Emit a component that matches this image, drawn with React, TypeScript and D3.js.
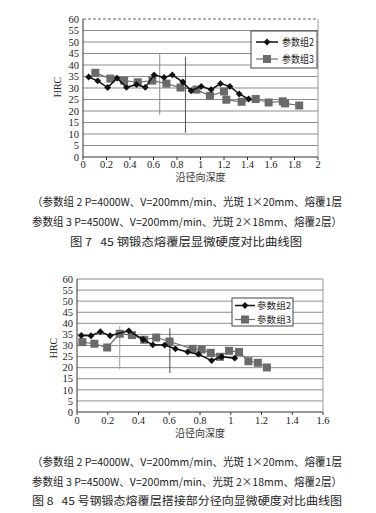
import React from "react";
import * as d3 from "d3";

// ---------- Data ----------
const seriesNames = ["参数组2", "参数组3"];

// Figure 7
const fig7Set2X = [0.048, 0.125, 0.21, 0.29, 0.37, 0.455, 0.53, 0.605, 0.69, 0.76, 0.85, 0.92, 1.006, 1.09, 1.17, 1.25, 1.33, 1.41];
const fig7Set2Y = [34.8, 33.1, 30.2, 34.3, 30.3, 31.5, 30.3, 35.7, 34.6, 35.7, 32.6, 28.8, 30.7, 29.3, 31.9, 30.7, 27.4, 25.2];
const fig7Set3X = [0.105, 0.233, 0.35, 0.466, 0.59, 0.71, 0.83, 0.966, 1.08, 1.2, 1.22, 1.35, 1.47, 1.58, 1.7, 1.72, 1.84];
const fig7Set3Y = [36.6, 34.1, 33.2, 32.5, 33.2, 31.9, 30.2, 29.3, 26.6, 28.5, 24.9, 24.0, 25.2, 23.7, 24.2, 23.3, 22.4];
const fig7XTicks = [0, 0.2, 0.4, 0.6, 0.8, 1, 1.2, 1.4, 1.6, 1.8, 2];
const fig7Markers = [
  { x: 0.653, y0: 18.3, y1: 44.6, color: "#8a8a8a" },
  { x: 0.872, y0: 10.5, y1: 43.6, color: "#555" },
];
const fig7Caption = [
  "（参数组 2 P=4000W、V=200mm/min、光斑 1×20mm、熔覆1层",
  "参数组 3 P=4500W、V=200mm/min、光斑 2×18mm、熔覆2层）",
  "图 7   45 钢锻态熔覆层显微硬度对比曲线图",
];

// Figure 8
const fig8Set2X = [0.028, 0.091, 0.152, 0.215, 0.337, 0.43, 0.493, 0.57, 0.64, 0.72, 0.79, 0.876, 0.94, 1.026];
const fig8Set2Y = [34.5, 34.4, 36.2, 34.4, 36.6, 32.7, 30.3, 30.2, 28.5, 27.1, 26.1, 23.2, 24.9, 24.3];
const fig8Set3X = [0.035, 0.113, 0.196, 0.278, 0.357, 0.437, 0.515, 0.602, 0.752, 0.811, 0.87, 0.93, 0.989, 1.054, 1.115, 1.176, 1.235];
const fig8Set3Y = [31.5, 30.8, 29.1, 35.3, 34.7, 32.6, 33.6, 31.8, 28.5, 28.2, 26.7, 24.9, 27.6, 27.1, 22.9, 22.2, 20.1];
const fig8XTicks = [0, 0.2, 0.4, 0.6, 0.8, 1, 1.2, 1.4, 1.6];
const fig8Markers = [
  { x: 0.278, y0: 19.3, y1: 38.7, color: "#999" },
  { x: 0.604, y0: 17.6, y1: 37.7, color: "#444" },
];
const fig8Caption = [
  "（参数组 2 P=4000W、V=200mm/min、光斑 1×20mm、熔覆1层",
  "参数组 3 P=4500W、V=200mm/min、光斑 2×18mm、熔覆2层）",
  "图 8   45 号钢锻态熔覆层搭接部分径向显微硬度对比曲线图",
];

const yTicks = [0, 5, 10, 15, 20, 25, 30, 35, 40, 45, 50, 55, 60];
const xTitle = "沿径向深度";
const yTitle = "HRC";

const SERIF = "'Liberation Serif', 'DejaVu Serif', serif";
const CJK = "'Noto Sans CJK SC', sans-serif";

type Layout = {
  left: number; right: number; top: number; bottom: number;
  xMax: number;
  legend: { x: number; y: number; w: number; h: number; row1: number; row2: number; lineX0: number; lineX1: number; textX: number; textW: number; fs: number };
  yTitleX: number; yTitleY: number;
  xTitleY: number;
  tickY: number;
  captionY: number[];
  captionBox: [number, number][];
  dashedTop: boolean;
};

function Chart({ s2x, s2y, s3x, s3y, xTicks, markers, caption, L }: any) {
  const lay: Layout = L;
  const x = d3.scaleLinear().domain([0, lay.xMax]).range([lay.left, lay.right]);
  const y = d3.scaleLinear().domain([0, 60]).range([lay.bottom, lay.top]);
  const line = d3.line<[number, number]>().x((d) => x(d[0])).y((d) => y(d[1]));
  const p2: [number, number][] = s2x.map((v: number, i: number) => [v, s2y[i]]);
  const p3: [number, number][] = s3x.map((v: number, i: number) => [v, s3y[i]]);
  const diamond = d3.symbol().type(d3.symbolDiamond2).size(30)() as string;
  const lg = lay.legend;
  const fmt = (t: number) => (t === 0 ? "0" : String(t));
  return (
    <g>
      {/* grid */}
      {yTicks.map((t) =>
        t === 60 && lay.dashedTop ? (
          <line key={t} x1={lay.left} x2={lay.right} y1={y(t)} y2={y(t)} stroke="#666" strokeDasharray="3,2" />
        ) : (
          <line key={t} x1={lay.left} x2={lay.right} y1={y(t)} y2={y(t)} stroke={t === 0 ? "#333" : "#8c8c8c"} strokeWidth={1} />
        )
      )}
      <line x1={lay.left} x2={lay.left} y1={lay.top} y2={lay.bottom} stroke="#333" />
      <line x1={lay.right} x2={lay.right} y1={lay.top} y2={lay.bottom} stroke="#999" />
      {xTicks.map((t: number) => (
        <line key={t} x1={x(t)} x2={x(t)} y1={lay.bottom} y2={lay.bottom + 3} stroke="#333" />
      ))}
      {/* y tick labels */}
      {yTicks.map((t) => (
        <text key={t} x={lay.left - 4} y={y(t)} dy="0.35em" textAnchor="end" fontFamily={SERIF} fontSize={10.5} fill="#222">
          {t}
        </text>
      ))}
      {xTicks.map((t: number) => (
        <text key={t} x={x(t)} y={lay.tickY} dy="0.35em" textAnchor="middle" fontFamily={SERIF} fontSize={10.5} fill="#222">
          {fmt(t)}
        </text>
      ))}
      <text transform={`translate(${lay.yTitleX},${lay.yTitleY}) rotate(-90)`} textAnchor="middle" dy="0.35em" fontFamily={SERIF} fontSize={10} fill="#222">
        {yTitle}
      </text>
      <text x={(lay.left + lay.right) / 2} y={lay.xTitleY} dy="0.35em" textAnchor="middle" fontFamily={CJK} fontSize={10} fill="#333">
        {xTitle}
      </text>
      {/* vertical marker lines */}
      {markers.map((m: any, i: number) => (
        <line key={i} x1={x(m.x)} x2={x(m.x)} y1={y(m.y0)} y2={y(m.y1)} stroke={m.color} strokeWidth={1} />
      ))}
      {/* series 3 */}
      <path d={line(p3) as string} fill="none" stroke="#6e6e6e" strokeWidth={1.2} />
      {p3.map((d, i) => (
        <rect key={i} x={x(d[0]) - 4} y={y(d[1]) - 4} width={8} height={8} fill="#6a6a6a" />
      ))}
      {/* series 2 */}
      <path d={line(p2) as string} fill="none" stroke="#111" strokeWidth={1.5} />
      {p2.map((d, i) => (
        <path key={i} d={diamond} transform={`translate(${x(d[0])},${y(d[1])})`} fill="#111" />
      ))}
      {/* legend */}
      <rect x={lg.x} y={lg.y} width={lg.w} height={lg.h} fill="#fff" stroke="#444" />
      <line x1={lg.lineX0} x2={lg.lineX1} y1={lg.row1} y2={lg.row1} stroke="#111" strokeWidth={1.5} />
      <path d={diamond} transform={`translate(${(lg.lineX0 + lg.lineX1) / 2},${lg.row1})`} fill="#111" />
      <text x={lg.textX} y={lg.row1} dy="0.35em" fontFamily={CJK} fontSize={lg.fs} fill="#222" textLength={lg.textW} lengthAdjust="spacingAndGlyphs">{seriesNames[0]}</text>
      <line x1={lg.lineX0} x2={lg.lineX1} y1={lg.row2} y2={lg.row2} stroke="#6e6e6e" strokeWidth={1.2} />
      <rect x={(lg.lineX0 + lg.lineX1) / 2 - 4} y={lg.row2 - 4} width={8} height={8} fill="#6a6a6a" />
      <text x={lg.textX} y={lg.row2} dy="0.35em" fontFamily={CJK} fontSize={lg.fs} fill="#222" textLength={lg.textW} lengthAdjust="spacingAndGlyphs">{seriesNames[1]}</text>
      {/* caption */}
      {caption.map((c: string, i: number) => (
        <text key={i} x={lay.captionBox[i][0]} y={lay.captionY[i]} dy="0.35em" fontFamily={CJK} fontSize={11} fill="#222"
          style={{ whiteSpace: "pre" }}
          textLength={lay.captionBox[i][1] - lay.captionBox[i][0]} lengthAdjust="spacingAndGlyphs">
          {c}
        </text>
      ))}
    </g>
  );
}

const L7: Layout = {
  left: 83, right: 318, top: 19, bottom: 157, xMax: 2,
  legend: { x: 251, y: 31, w: 66, h: 37, row1: 42, row2: 59, lineX0: 256, lineX1: 278, textX: 282, textW: 32, fs: 10 },
  yTitleX: 57, yTitleY: 87, xTitleY: 177, tickY: 164,
  captionY: [202, 222, 242],
  captionBox: [[32, 342], [32, 342], [70, 302]],
  dashedTop: true,
};
const L8: Layout = {
  left: 77, right: 323, top: 279, bottom: 412, xMax: 1.6,
  legend: { x: 232, y: 298, w: 61, h: 28, row1: 305.5, row2: 319.5, lineX0: 235, lineX1: 255, textX: 257, textW: 34, fs: 9 },
  yTitleX: 53, yTitleY: 348, xTitleY: 433, tickY: 420,
  captionY: [462, 482, 501],
  captionBox: [[32, 342], [32, 342], [32, 342]],
  dashedTop: false,
};

export default function App() {
  return (
    <svg width={376} height={513} style={{ position: "absolute", left: 0, top: 0, background: "#fff" }}>
      <Chart s2x={fig7Set2X} s2y={fig7Set2Y} s3x={fig7Set3X} s3y={fig7Set3Y} xTicks={fig7XTicks} markers={fig7Markers} caption={fig7Caption} L={L7} />
      <Chart s2x={fig8Set2X} s2y={fig8Set2Y} s3x={fig8Set3X} s3y={fig8Set3Y} xTicks={fig8XTicks} markers={fig8Markers} caption={fig8Caption} L={L8} />
    </svg>
  );
}
